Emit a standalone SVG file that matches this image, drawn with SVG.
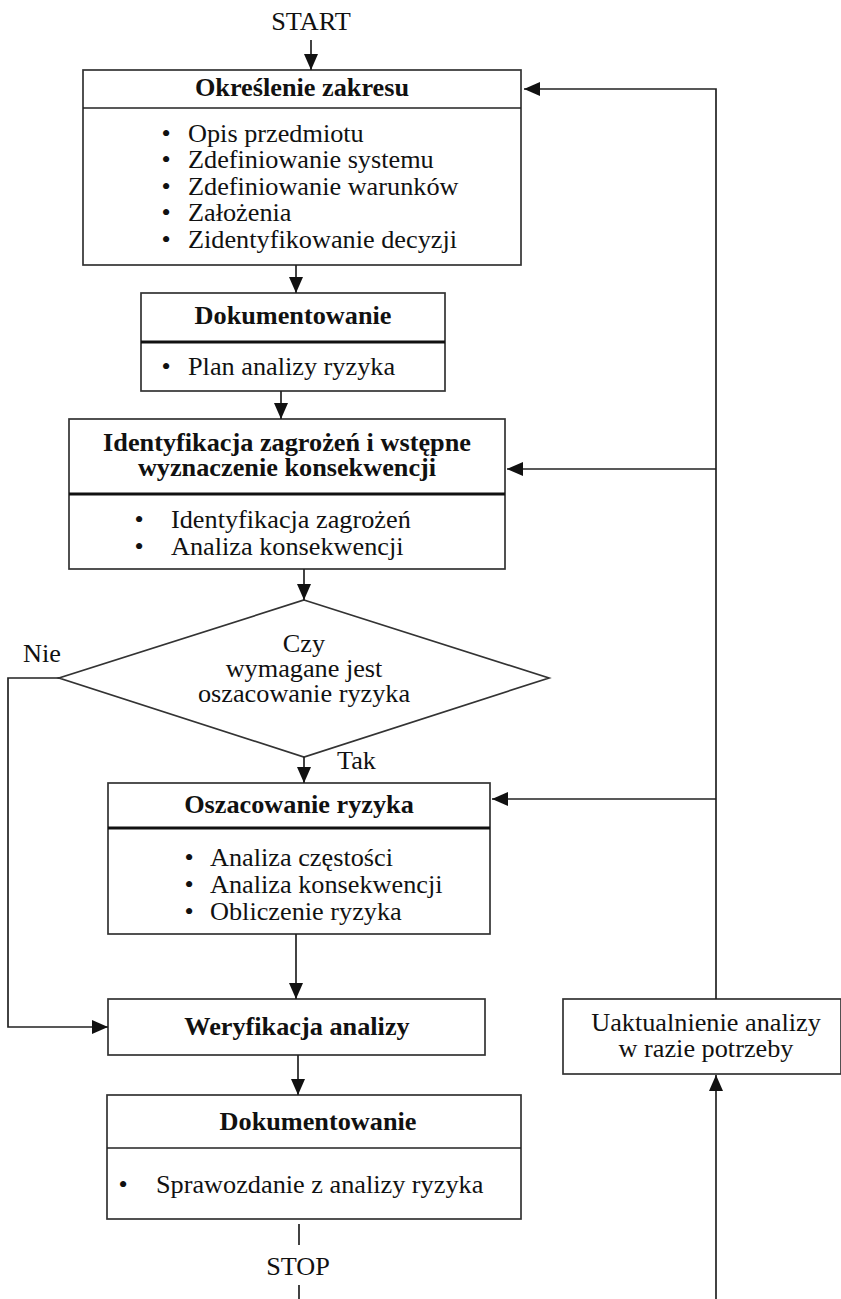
<svg xmlns="http://www.w3.org/2000/svg" width="841" height="1299" viewBox="0 0 841 1299">
<style>
.box{fill:#fff;stroke:#333;stroke-width:1.7}
.div{stroke:#222;stroke-width:1.7}
.thick{stroke:#111;stroke-width:3}
.ln{fill:none;stroke:#222;stroke-width:1.7}
text{font-family:"Liberation Serif","Times New Roman",serif;font-size:25.5px;fill:#111}
.b{font-weight:bold}
.m{text-anchor:middle}
</style>
<defs>
<marker id="ah" markerUnits="userSpaceOnUse" markerWidth="17" markerHeight="14" refX="16" refY="7" orient="auto">
<path d="M0,0 L16,7 L0,14 Z" fill="#111"/>
</marker>
</defs>
<rect width="841" height="1299" fill="#fff"/>

<g id="start"><text class="m" transform="translate(311,30) scale(1.03,1)">START</text></g>

<g id="n1">
<rect class="box" x="83" y="70" width="438" height="195"/>
<line class="div" x1="83" y1="108" x2="521" y2="108"/>
<text class="b m" transform="translate(302,96) scale(1.03,1)">Określenie zakresu</text>
<text class="m" transform="translate(166,142) scale(1.03,1)">•</text>
<text transform="translate(188,142) scale(1.03,1)">Opis przedmiotu</text>
<text class="m" transform="translate(166,168) scale(1.03,1)">•</text>
<text transform="translate(188,168) scale(1.03,1)">Zdefiniowanie systemu</text>
<text class="m" transform="translate(166,195) scale(1.03,1)">•</text>
<text transform="translate(188,195) scale(1.03,1)">Zdefiniowanie warunków</text>
<text class="m" transform="translate(166,221) scale(1.03,1)">•</text>
<text transform="translate(188,221) scale(1.03,1)">Założenia</text>
<text class="m" transform="translate(166,248) scale(1.03,1)">•</text>
<text transform="translate(188,248) scale(1.03,1)">Zidentyfikowanie decyzji</text>
</g>

<g id="n2">
<rect class="box" x="141" y="293" width="304" height="98"/>
<line class="thick" x1="141" y1="342" x2="445" y2="342"/>
<text class="b m" transform="translate(293,324) scale(1.03,1)">Dokumentowanie</text>
<text class="m" transform="translate(166,375) scale(1.03,1)">•</text>
<text transform="translate(188,375) scale(1.03,1)">Plan analizy ryzyka</text>
</g>

<g id="n3">
<rect class="box" x="69" y="419" width="436" height="150"/>
<line class="thick" x1="69" y1="494" x2="505" y2="494"/>
<text class="b m" transform="translate(287,451) scale(1.03,1)">Identyfikacja zagrożeń i wstępne</text>
<text class="b m" transform="translate(287,476) scale(1.03,1)">wyznaczenie konsekwencji</text>
<text class="m" transform="translate(139,528) scale(1.03,1)">•</text>
<text transform="translate(171,528) scale(1.03,1)">Identyfikacja zagrożeń</text>
<text class="m" transform="translate(139,555) scale(1.03,1)">•</text>
<text transform="translate(171,555) scale(1.03,1)">Analiza konsekwencji</text>
</g>

<g id="n4">
<polygon class="box" points="304,600 549,678 304,757 59,678"/>
<text class="m" transform="translate(304,652) scale(1.03,1)">Czy</text>
<text class="m" transform="translate(304,677) scale(1.03,1)">wymagane jest</text>
<text class="m" transform="translate(304,702) scale(1.03,1)">oszacowanie ryzyka</text>
</g>

<g id="n5">
<rect class="box" x="108" y="783" width="382" height="151"/>
<line class="thick" x1="108" y1="828" x2="490" y2="828"/>
<text class="b m" transform="translate(299,813) scale(1.03,1)">Oszacowanie ryzyka</text>
<text class="m" transform="translate(189,866) scale(1.03,1)">•</text>
<text transform="translate(210,866) scale(1.03,1)">Analiza częstości</text>
<text class="m" transform="translate(189,893) scale(1.03,1)">•</text>
<text transform="translate(210,893) scale(1.03,1)">Analiza konsekwencji</text>
<text class="m" transform="translate(189,920) scale(1.03,1)">•</text>
<text transform="translate(210,920) scale(1.03,1)">Obliczenie ryzyka</text>
</g>

<g id="n6">
<rect class="box" x="108" y="999" width="377" height="56"/>
<text class="b m" transform="translate(297,1035) scale(1.03,1)">Weryfikacja analizy</text>
</g>

<g id="n7">
<rect class="box" x="107" y="1095" width="414" height="124"/>
<line class="div" x1="107" y1="1148" x2="521" y2="1148"/>
<text class="b m" transform="translate(318,1130) scale(1.03,1)">Dokumentowanie</text>
<text class="m" transform="translate(123,1193) scale(1.03,1)">•</text>
<text transform="translate(156,1193) scale(1.03,1)">Sprawozdanie z analizy ryzyka</text>
</g>

<g id="n8">
<rect class="box" x="563" y="999" width="278" height="75"/>
<text class="m" transform="translate(706,1031) scale(1.03,1)">Uaktualnienie analizy</text>
<text class="m" transform="translate(706,1057) scale(1.03,1)">w razie potrzeby</text>
</g>

<g id="stop"><text class="m" transform="translate(298,1275) scale(1.03,1)">STOP</text></g>

<g id="labels">
<text transform="translate(23,662) scale(1.03,1)">Nie</text>
<text transform="translate(337,769) scale(1.03,1)">Tak</text>
</g>

<g id="connectors">
<line class="ln" x1="311" y1="40" x2="311" y2="70" marker-end="url(#ah)"/>
<line class="ln" x1="296" y1="265" x2="296" y2="293" marker-end="url(#ah)"/>
<line class="ln" x1="281" y1="391" x2="281" y2="419" marker-end="url(#ah)"/>
<line class="ln" x1="304" y1="569" x2="304" y2="600" marker-end="url(#ah)"/>
<line class="ln" x1="304" y1="757" x2="304" y2="783" marker-end="url(#ah)"/>
<line class="ln" x1="296" y1="934" x2="296" y2="999" marker-end="url(#ah)"/>
<line class="ln" x1="298" y1="1055" x2="298" y2="1095" marker-end="url(#ah)"/>
<polyline class="ln" points="59,678 8,678 8,1027 108,1027" marker-end="url(#ah)"/>
<line class="ln" x1="299" y1="1224" x2="299" y2="1245"/>
<line class="ln" x1="299" y1="1285" x2="299" y2="1299"/>
<line class="ln" x1="716" y1="1299" x2="716" y2="1075" marker-end="url(#ah)"/>
<polyline class="ln" points="716,999 716,89 524,89" marker-end="url(#ah)"/>
<line class="ln" x1="716" y1="469" x2="507" y2="469" marker-end="url(#ah)"/>
<line class="ln" x1="716" y1="799" x2="492" y2="799" marker-end="url(#ah)"/>
</g>
</svg>
